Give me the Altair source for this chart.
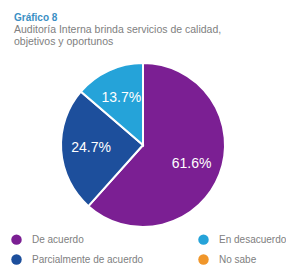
import altair as alt
import pandas as pd

categories = ["De acuerdo", "Parcialmente de acuerdo", "En desacuerdo", "No sabe"]
values = [61.6, 24.7, 13.7, 0.0]
labels = ["61.6%", "24.7%", "13.7%", ""]
pie_order = [0, 1, 2, 3]
legend_order = ["De acuerdo", "Parcialmente de acuerdo", "En desacuerdo", "No sabe"]
colors = ["#7b1f93", "#1d4f9c", "#25a3d9", "#f0962a"]

df = pd.DataFrame({"cat": categories, "val": values, "lab": labels, "ord": pie_order})

color = alt.Color(
    "cat:N",
    scale=alt.Scale(domain=legend_order, range=colors),
    legend=alt.Legend(
        title=None,
        orient="none",
        legendX=3,
        legendY=184,
        columns=2,
        columnPadding=54,
        rowPadding=9,
        symbolType="circle",
        symbolSize=110,
        symbolStrokeWidth=0,
        labelFontSize=10,
        labelColor="#808080",
        labelFont="Liberation Sans",
        labelOffset=10,
    ),
)

base = alt.Chart(df).encode(
    theta=alt.Theta("val:Q", stack=True),
    order=alt.Order("ord:Q"),
)

pie = base.mark_arc(outerRadius=82, stroke="white", strokeWidth=2).encode(
    color=color,
    x=alt.value(135),
    y=alt.value(95),
)

text = base.mark_text(
    radius=52,
    fontSize=14,
    color="white",
    font="Liberation Sans Narrow, Liberation Sans, sans-serif",
).encode(
    text="lab:N",
    x=alt.value(135),
    y=alt.value(95),
)

chart = (
    alt.layer(pie, text)
    .properties(
        width=278,
        height=216,
        autosize="none",
        padding={"left": 0, "right": 0, "top": 42, "bottom": 0},
        title=alt.TitleParams(
            text="Gráfico 8",
            subtitle=["Auditoría Interna brinda servicios de calidad,", "objetivos y oportunos"],
            anchor="start",
            frame="group",
            dx=6,
            offset=3,
            fontSize=10,
            fontWeight="bold",
            color="#3a8fc4",
            font="Liberation Sans",
            subtitleFontSize=10.5,
            subtitleColor="#808080",
            subtitleFont="Liberation Sans",
            subtitlePadding=2,
            subtitleLineHeight=11.5,
        ),
    )
    .configure_view(stroke=None)
)

chart.save("out.html", embed_options={"renderer": "svg", "actions": False})
